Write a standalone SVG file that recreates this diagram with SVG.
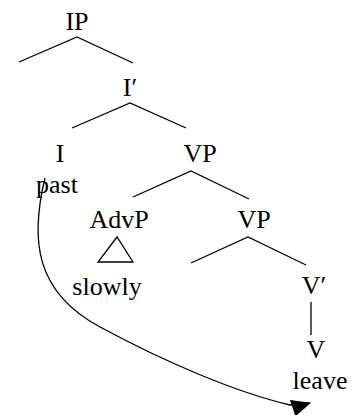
<svg xmlns="http://www.w3.org/2000/svg" width="352" height="415" viewBox="0 0 352 415">
  <defs>
    <style>
      .lbl { font-family: "Liberation Serif", "Times New Roman", serif; font-size: 26px; fill: #000; text-anchor: middle; }
      .edge { stroke: #000; stroke-width: 1.3; fill: none; }
    </style>
    <marker id="head" viewBox="0 0 20 17" refX="19" refY="7" markerWidth="20" markerHeight="17" markerUnits="userSpaceOnUse" orient="-12">
      <path d="M0,0 L20,7 L2,17 Z" fill="#000"/>
    </marker>
  </defs>

  <!-- tree branches -->
  <g id="connectors">
    <path class="edge" d="M19,62 L77,37 L133,63"/>
    <path class="edge" d="M72,128 L130,103 L186,128"/>
    <path class="edge" d="M133,197 L191,171 L249,199"/>
    <path class="edge" d="M191,263 L248,237 L306,265"/>
    <path class="edge" d="M117,237 L98,262 L133,262 Z"/>
    <path class="edge" d="M311,302 L311,335"/>
    <!-- movement arrow from I to V -->
    <path class="edge" d="M45,178 C30,240 35,292 100,327 S235,392 290,405 L310,403" marker-end="url(#head)"/>
  </g>

  <g id="n-ip"><text class="lbl" x="77" y="30">IP</text></g>
  <g id="n-ibar"><text class="lbl" x="130" y="96">I′</text></g>
  <g id="n-i"><text class="lbl" x="60" y="162">I</text></g>
  <g id="n-past"><text class="lbl" x="57" y="193">past</text></g>
  <g id="n-vp1"><text class="lbl" x="200" y="162">VP</text></g>
  <g id="n-advp"><text class="lbl" x="119" y="228">AdvP</text></g>
  <g id="n-slowly"><text class="lbl" x="107" y="295">slowly</text></g>
  <g id="n-vp2"><text class="lbl" x="254" y="228">VP</text></g>
  <g id="n-vbar"><text class="lbl" x="314" y="294">V′</text></g>
  <g id="n-v"><text class="lbl" x="316" y="358">V</text></g>
  <g id="n-leave"><text class="lbl" x="320" y="389">leave</text></g>
</svg>
